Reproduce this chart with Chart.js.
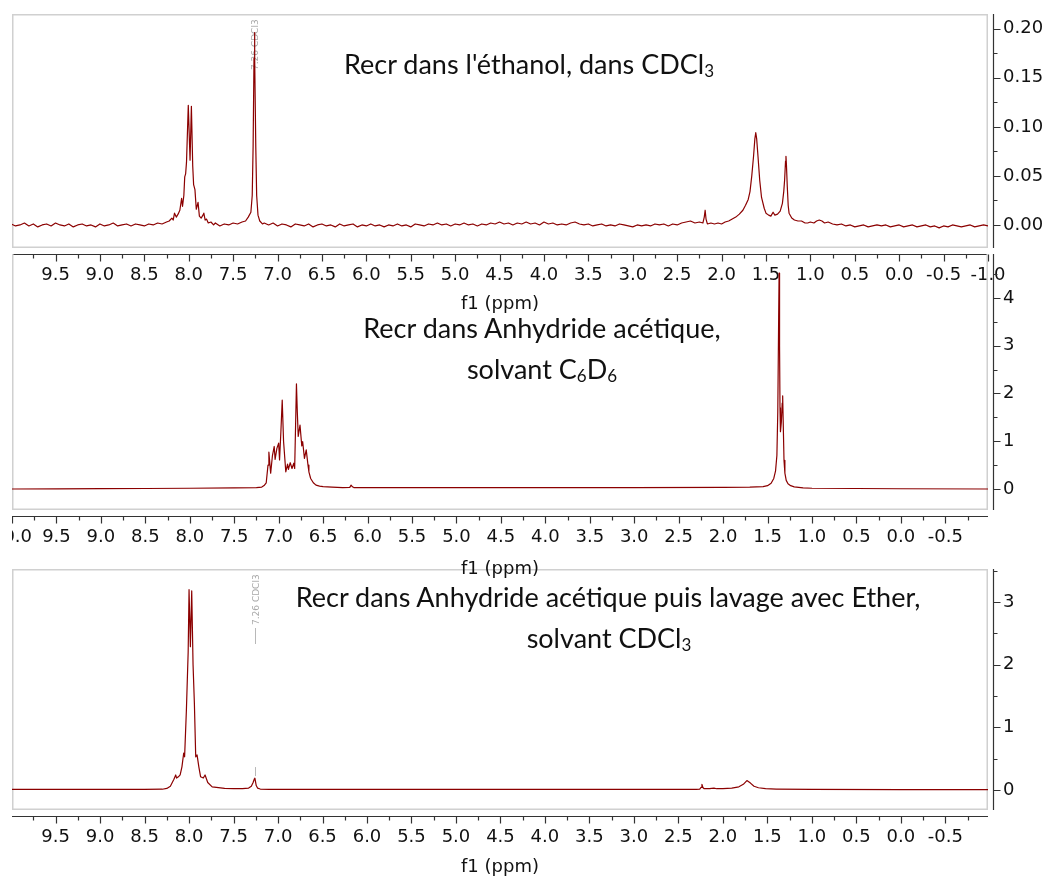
<!DOCTYPE html>
<html>
<head>
<meta charset="utf-8">
<script src="https://cdn.jsdelivr.net/npm/chart.js@4.4.0/dist/chart.umd.min.js"></script>
<style>
  body { margin: 0; background: #fff; width: 1044px; height: 878px; position: relative; overflow: hidden; }
  canvas { position: absolute; }
  .title { position: absolute; font-family: Lato, sans-serif; font-size: 27px; line-height: 30px; color: #111;
           white-space: nowrap; transform: translateX(-50%); }
  .title .sub { font-size: 17px; vertical-align: -3px; }
</style>
</head>
<body>
<canvas id="specEthanol" width="1044" height="316" style="left:0;top:0"></canvas>
<canvas id="specEther" width="1044" height="323" style="left:0;top:555px"></canvas>
<canvas id="specAnhydride" width="1032" height="340" style="left:12px;top:240px"></canvas>

<div class="title" style="left:529px;top:49px">Recr dans l'éthanol, dans CDCl<span class="sub">3</span></div>
<div class="title" style="left:542px;top:313px">Recr dans Anhydride acétique,</div>
<div class="title" style="left:542px;top:354px">solvant C<span class="sub">6</span>D<span class="sub">6</span></div>
<div class="title" style="left:608px;top:582px">Recr dans Anhydride acétique puis lavage avec Ether,</div>
<div class="title" style="left:609px;top:623px">solvant CDCl<span class="sub">3</span></div>

<script>
// [ppm, intensity] — recrystallised from ethanol, CDCl3
const spectrumEthanol = [
  [10.00, 0.001], [9.95, -0.001], [9.90, 0.000], [9.85, 0.002], [9.80, -0.001], [9.75, 0.001],
  [9.70, -0.002], [9.65, 0.000], [9.60, 0.001], [9.55, -0.001], [9.50, 0.002], [9.45, 0.000],
  [9.40, -0.001], [9.35, 0.001], [9.30, -0.002], [9.25, 0.000], [9.20, 0.001], [9.15, -0.001],
  [9.10, 0.000], [9.05, -0.002], [9.00, 0.001], [8.95, -0.001], [8.90, 0.000], [8.85, 0.002],
  [8.80, -0.001], [8.75, 0.000], [8.70, 0.001], [8.65, -0.001], [8.60, 0.001], [8.55, 0.000],
  [8.50, -0.001], [8.45, 0.001], [8.40, 0.000], [8.35, 0.002], [8.30, 0.001], [8.25, 0.003],
  [8.22, 0.004], [8.19, 0.007], [8.175, 0.005], [8.16, 0.012], [8.14, 0.008], [8.12, 0.011],
  [8.10, 0.015], [8.08, 0.027], [8.07, 0.019], [8.055, 0.030], [8.045, 0.049], [8.035, 0.052],
  [8.025, 0.064], [8.005, 0.122], [7.985, 0.066], [7.970, 0.121], [7.955, 0.060], [7.945, 0.041],
  [7.930, 0.036], [7.915, 0.016], [7.895, 0.023], [7.880, 0.009], [7.860, 0.007], [7.840, 0.010],
  [7.830, 0.012], [7.815, 0.005], [7.80, 0.006], [7.78, 0.002], [7.75, 0.003], [7.72, 0.000],
  [7.70, 0.002], [7.65, -0.001], [7.60, 0.001], [7.55, 0.000], [7.50, 0.002], [7.45, 0.001],
  [7.40, 0.003], [7.36, 0.004], [7.33, 0.008], [7.30, 0.013], [7.285, 0.030], [7.275, 0.080],
  [7.265, 0.170], [7.260, 0.196], [7.255, 0.170], [7.245, 0.080], [7.235, 0.030], [7.22, 0.010],
  [7.20, 0.004], [7.17, 0.001], [7.15, 0.002], [7.10, 0.000], [7.05, 0.002], [7.00, -0.001],
  [6.95, 0.001], [6.90, 0.000], [6.85, -0.002], [6.80, 0.001], [6.75, 0.000], [6.70, -0.001],
  [6.65, 0.001], [6.60, -0.002], [6.55, 0.000], [6.50, 0.001], [6.45, -0.001], [6.40, 0.000],
  [6.35, -0.002], [6.30, 0.001], [6.25, -0.001], [6.20, 0.000], [6.15, 0.001], [6.10, -0.002],
  [6.05, 0.000], [6.00, -0.001], [5.95, 0.001], [5.90, -0.001], [5.85, 0.000], [5.80, -0.002],
  [5.75, 0.000], [5.70, -0.001], [5.65, 0.001], [5.60, -0.001], [5.55, 0.000], [5.50, -0.002],
  [5.45, 0.001], [5.40, 0.000], [5.35, -0.001], [5.30, 0.001], [5.25, 0.000], [5.20, 0.002],
  [5.15, 0.000], [5.10, 0.001], [5.05, -0.001], [5.00, 0.001], [4.95, 0.000], [4.90, 0.002],
  [4.85, 0.000], [4.80, 0.001], [4.75, -0.001], [4.70, 0.001], [4.65, 0.000], [4.60, 0.002],
  [4.55, 0.001], [4.50, 0.003], [4.45, 0.001], [4.40, 0.002], [4.35, 0.000], [4.30, 0.002],
  [4.25, 0.001], [4.20, 0.003], [4.15, 0.001], [4.10, 0.002], [4.05, 0.000], [4.00, 0.003],
  [3.95, 0.001], [3.90, 0.002], [3.85, 0.000], [3.80, 0.001], [3.75, 0.000], [3.70, 0.002],
  [3.65, 0.003], [3.60, 0.001], [3.55, 0.000], [3.50, 0.001], [3.45, -0.001], [3.40, 0.000],
  [3.35, 0.001], [3.30, -0.001], [3.25, 0.000], [3.20, -0.001], [3.15, 0.001], [3.10, 0.000],
  [3.05, -0.001], [3.00, -0.002], [2.95, 0.000], [2.90, -0.001], [2.85, 0.000], [2.80, -0.001],
  [2.75, 0.001], [2.70, 0.000], [2.65, 0.001], [2.60, -0.001], [2.55, 0.001], [2.50, 0.000],
  [2.45, 0.002], [2.40, 0.003], [2.35, 0.004], [2.30, 0.002], [2.25, 0.003], [2.21, 0.002],
  [2.195, 0.008], [2.185, 0.015], [2.175, 0.006], [2.16, 0.001], [2.12, 0.002], [2.08, 0.001],
  [2.04, 0.002], [2.00, 0.001], [1.96, 0.003], [1.92, 0.004], [1.88, 0.006], [1.84, 0.008],
  [1.80, 0.011], [1.76, 0.015], [1.73, 0.020], [1.70, 0.026], [1.68, 0.034], [1.66, 0.050],
  [1.64, 0.070], [1.625, 0.088], [1.615, 0.094], [1.605, 0.088], [1.59, 0.070], [1.57, 0.045],
  [1.55, 0.028], [1.52, 0.017], [1.50, 0.012], [1.47, 0.010], [1.445, 0.009], [1.42, 0.013],
  [1.40, 0.010], [1.37, 0.011], [1.34, 0.014], [1.315, 0.022], [1.30, 0.034], [1.29, 0.046],
  [1.28, 0.065], [1.275, 0.070], [1.27, 0.062], [1.26, 0.039], [1.25, 0.020], [1.24, 0.012],
  [1.21, 0.007], [1.18, 0.005], [1.14, 0.004], [1.10, 0.004], [1.06, 0.002], [1.03, 0.002],
  [1.00, 0.003], [0.96, 0.002], [0.93, 0.004], [0.90, 0.005], [0.87, 0.004], [0.84, 0.002],
  [0.80, 0.003], [0.75, 0.001], [0.70, 0.000], [0.65, 0.001], [0.60, -0.001], [0.55, 0.000],
  [0.50, -0.002], [0.45, -0.001], [0.40, 0.000], [0.35, -0.002], [0.30, -0.001], [0.25, 0.000],
  [0.20, -0.001], [0.15, 0.000], [0.10, -0.002], [0.05, -0.001], [0.00, 0.000], [-0.05, -0.002],
  [-0.10, -0.001], [-0.15, 0.000], [-0.20, -0.002], [-0.25, -0.001], [-0.30, 0.000], [-0.35, -0.002],
  [-0.40, -0.001], [-0.45, -0.003], [-0.50, -0.001], [-0.55, -0.002], [-0.60, 0.000], [-0.65, -0.001],
  [-0.70, -0.002], [-0.75, -0.001], [-0.80, 0.000], [-0.85, -0.002], [-0.90, -0.001], [-0.95, 0.000],
  [-1.00, -0.001]
];

// recrystallised from acetic anhydride, C6D6
const spectrumAnhydride = [
  [10.00, 0.000], [9.50, 0.003], [9.00, 0.006], [8.50, 0.010], [8.00, 0.015], [7.50, 0.022],
  [7.25, 0.028], [7.19, 0.040], [7.16, 0.080], [7.14, 0.130], [7.12, 0.500], [7.11, 0.770],
  [7.10, 0.550], [7.09, 0.330], [7.07, 0.700], [7.05, 0.890], [7.04, 0.620], [7.02, 0.850],
  [7.00, 0.960], [6.99, 0.610], [6.975, 1.200], [6.96, 1.860], [6.945, 1.000], [6.92, 0.360],
  [6.90, 0.520], [6.89, 0.410], [6.87, 0.550], [6.85, 0.430], [6.83, 0.540], [6.82, 0.430],
  [6.81, 1.300], [6.80, 2.200], [6.79, 1.600], [6.78, 1.100], [6.76, 1.340], [6.74, 0.900],
  [6.73, 0.990], [6.71, 0.640], [6.69, 0.820], [6.67, 0.500], [6.66, 0.360], [6.64, 0.220],
  [6.61, 0.130], [6.58, 0.080], [6.54, 0.060], [6.50, 0.050], [6.40, 0.040], [6.28, 0.030],
  [6.20, 0.035], [6.185, 0.080], [6.17, 0.045], [6.155, 0.030], [6.00, 0.030], [5.00, 0.030],
  [4.00, 0.030], [3.00, 0.030], [2.00, 0.035], [1.70, 0.040], [1.55, 0.050], [1.50, 0.070],
  [1.46, 0.120], [1.43, 0.220], [1.41, 0.380], [1.395, 0.700], [1.385, 1.600], [1.375, 3.600],
  [1.370, 4.520], [1.365, 3.000], [1.360, 1.700], [1.355, 1.200], [1.345, 1.400], [1.335, 1.800],
  [1.330, 1.950], [1.325, 1.500], [1.315, 0.600], [1.305, 0.330], [1.29, 0.180], [1.27, 0.110],
  [1.24, 0.070], [1.20, 0.045], [1.10, 0.025], [1.00, 0.015], [0.50, 0.010], [0.00, 0.005],
  [-0.98, 0.000]
];

// acetic anhydride then ether wash, CDCl3
const spectrumEther = [
  [10.00, 0.010], [9.00, 0.010], [8.50, 0.010], [8.30, 0.012], [8.25, 0.025], [8.21, 0.060],
  [8.17, 0.170], [8.15, 0.240], [8.14, 0.190], [8.12, 0.210], [8.10, 0.240], [8.08, 0.370],
  [8.06, 0.590], [8.05, 0.530], [8.04, 0.900], [8.03, 1.270], [8.01, 2.200], [8.00, 3.200],
  [7.985, 2.290], [7.97, 3.180], [7.955, 2.000], [7.94, 1.380], [7.925, 0.530], [7.91, 0.560],
  [7.89, 0.370], [7.87, 0.210], [7.84, 0.190], [7.82, 0.240], [7.79, 0.120], [7.74, 0.050],
  [7.60, 0.025], [7.50, 0.020], [7.40, 0.022], [7.33, 0.030], [7.30, 0.060], [7.28, 0.120],
  [7.265, 0.180], [7.26, 0.190], [7.255, 0.150], [7.245, 0.070], [7.23, 0.030], [7.20, 0.015],
  [7.10, 0.010], [5.00, 0.010], [3.00, 0.010], [2.30, 0.010], [2.26, 0.015], [2.245, 0.040],
  [2.235, 0.090], [2.225, 0.040], [2.21, 0.020], [2.15, 0.020], [2.10, 0.030], [2.07, 0.020],
  [2.00, 0.020], [1.90, 0.030], [1.82, 0.050], [1.77, 0.090], [1.73, 0.150], [1.69, 0.110],
  [1.65, 0.060], [1.60, 0.035], [1.52, 0.020], [1.40, 0.015], [1.00, 0.010], [0.00, 0.005],
  [-0.98, 0.005]
];

const ppmTicksTop = [9.5, 9.0, 8.5, 8.0, 7.5, 7.0, 6.5, 6.0, 5.5, 5.0, 4.5, 4.0, 3.5, 3.0, 2.5, 2.0, 1.5, 1.0, 0.5, 0.0, -0.5, -1.0];
const ppmTicksMid = [10.0, 9.5, 9.0, 8.5, 8.0, 7.5, 7.0, 6.5, 6.0, 5.5, 5.0, 4.5, 4.0, 3.5, 3.0, 2.5, 2.0, 1.5, 1.0, 0.5, 0.0, -0.5];
const ppmTicksBottom = [9.5, 9.0, 8.5, 8.0, 7.5, 7.0, 6.5, 6.0, 5.5, 5.0, 4.5, 4.0, 3.5, 3.0, 2.5, 2.0, 1.5, 1.0, 0.5, 0.0, -0.5];
const ppmMinorTicks = [9.75, 9.25, 8.75, 8.25, 7.75, 7.25, 6.75, 6.25, 5.75, 5.25, 4.75, 4.25, 3.75, 3.25, 2.75, 2.25, 1.75, 1.25, 0.75, 0.25, -0.25, -0.75];

const intTicksTop = [0, 0.05, 0.10, 0.15, 0.20];
const intMinorTop = [0.025, 0.075, 0.125, 0.175];
const intTicksMid = [0, 1, 2, 3, 4];
const intMinorMid = [0.5, 1.5, 2.5, 3.5, 4.5];
const intTicksBottom = [0, 1, 2, 3];
const intMinorBottom = [0.5, 1.5, 2.5, 3.5];

Chart.defaults.font.family = 'DejaVu Sans';
Chart.defaults.font.size = 18;
Chart.defaults.color = '#111';

// gray frame, offset axes with major/minor ticks, solvent marker
const nmrAxes = {
  id: 'nmrAxes',
  beforeDatasetsDraw(chart, args, o) {
    const { ctx, chartArea: a, scales: { x, y } } = chart;
    ctx.save();
    ctx.strokeStyle = '#d0d0d0';
    ctx.lineWidth = 1.5;
    ctx.beginPath();
    if (o.frameTop) {
      ctx.moveTo(a.left + 0.75, a.top + 0.75);
      ctx.lineTo(a.right - 0.75, a.top + 0.75);
    } else {
      ctx.moveTo(a.right - 0.75, a.top);
    }
    ctx.lineTo(a.right - 0.75, a.bottom - 0.75);
    ctx.lineTo(a.left + 0.75, a.bottom - 0.75);
    ctx.lineTo(a.left + 0.75, a.top);
    if (o.frameTop) ctx.lineTo(a.left + 0.75, a.top + 0.75);
    ctx.stroke();

    if (o.solvent) {
      const px = Math.round(x.getPixelForValue(o.solvent.ppm)) + 0.5;
      ctx.fillStyle = '#a8a8a8';
      ctx.strokeStyle = '#b8b8b8';
      ctx.lineWidth = 1;
      ctx.font = '9px "DejaVu Sans"';
      ctx.save();
      ctx.translate(px + 3, a.top + 56);
      ctx.rotate(-Math.PI / 2);
      ctx.textAlign = 'left';
      ctx.textBaseline = 'alphabetic';
      ctx.fillText(o.solvent.text, 0, 0);
      ctx.restore();
      if (o.solvent.marker) {
        ctx.beginPath();
        ctx.moveTo(px, a.top + 59);
        ctx.lineTo(px, a.top + 75);
        const peak = y.getPixelForValue(o.solvent.height);
        ctx.moveTo(px, peak - 11);
        ctx.lineTo(px, peak - 2);
        ctx.stroke();
      }
    }
    ctx.restore();
  },
  afterDraw(chart, args, o) {
    const { ctx, chartArea: a, scales: { x, y } } = chart;
    const axisY = a.bottom + 6.5;
    const axisX = a.right + 5.5;
    ctx.save();
    ctx.strokeStyle = '#333';
    ctx.lineWidth = 1.2;
    ctx.beginPath();
    ctx.moveTo(a.left, axisY);
    ctx.lineTo(a.right, axisY);
    ctx.moveTo(axisX, a.top);
    ctx.lineTo(axisX, a.bottom);
    const inX = v => v >= x.min && v <= x.max;
    const inY = v => v >= y.min && v <= y.max;
    o.xMajor.filter(inX).forEach(v => {
      const px = Math.round(x.getPixelForValue(v)) + 0.5;
      ctx.moveTo(px, axisY); ctx.lineTo(px, axisY + 7);
    });
    o.xMinor.filter(inX).forEach(v => {
      const px = Math.round(x.getPixelForValue(v)) + 0.5;
      ctx.moveTo(px, axisY); ctx.lineTo(px, axisY + 4);
    });
    o.yMajor.filter(inY).forEach(v => {
      const py = Math.round(y.getPixelForValue(v)) + 0.5;
      ctx.moveTo(axisX, py); ctx.lineTo(axisX + 7, py);
    });
    o.yMinor.filter(inY).forEach(v => {
      const py = Math.round(y.getPixelForValue(v)) + 0.5;
      ctx.moveTo(axisX, py); ctx.lineTo(axisX + 4, py);
    });
    ctx.stroke();
    ctx.restore();
  }
};

function drawSpectrum(canvasId, points, cfg) {
  return new Chart(document.getElementById(canvasId), {
    type: 'line',
    data: {
      datasets: [{
        data: points.map(p => ({ x: p[0], y: p[1] })),
        borderColor: '#8b0000',
        borderWidth: 1.2,
        borderJoinStyle: 'round',
        pointRadius: 0,
        tension: 0
      }]
    },
    options: {
      responsive: false,
      animation: false,
      events: [],
      layout: { padding: { top: 14, left: cfg.left, right: 0, bottom: 0 } },
      plugins: {
        legend: { display: false },
        tooltip: { enabled: false },
        nmrAxes: {
          frameTop: cfg.frameTop,
          xMajor: cfg.xTicks, xMinor: ppmMinorTicks,
          yMajor: cfg.yTicks, yMinor: cfg.yMinor,
          solvent: cfg.solvent
        }
      },
      scales: {
        x: {
          type: 'linear',
          reverse: true,
          min: cfg.xMin,
          max: cfg.xMax,
          grid: { display: false, drawTicks: false },
          border: { display: false },
          afterBuildTicks: s => { s.ticks = cfg.xTicks.map(v => ({ value: v })); },
          afterFit: s => { s.height = cfg.xHeight; s.paddingLeft = 0; s.paddingRight = 0; },
          ticks: { autoSkip: false, maxRotation: 0, minRotation: 0, padding: 17, callback: v => v.toFixed(1) },
          title: { display: true, text: 'f1 (ppm)', padding: { top: 0, bottom: cfg.titlePad } }
        },
        y: {
          position: 'right',
          min: cfg.yMin,
          max: cfg.yMax,
          grid: { display: false, drawTicks: false },
          border: { display: false },
          afterBuildTicks: s => { s.ticks = cfg.yTicks.map(v => ({ value: v })); },
          afterFit: s => { s.width = 56; s.paddingTop = 0; s.paddingBottom = 0; },
          ticks: { autoSkip: false, padding: 15, callback: cfg.yLabel }
        }
      }
    },
    plugins: [nmrAxes]
  });
}

drawSpectrum('specEthanol', spectrumEthanol, {
  left: 12, frameTop: true, xHeight: 68, titlePad: 1,
  xMin: -1.0, xMax: 9.99, xTicks: ppmTicksTop,
  yMin: -0.0235, yMax: 0.215, yTicks: intTicksTop, yMinor: intMinorTop,
  yLabel: v => v.toFixed(2),
  solvent: { ppm: 7.26, text: '7.26 CDCl3', marker: false }
});

drawSpectrum('specAnhydride', spectrumAnhydride, {
  left: 0, frameTop: false, xHeight: 70, titlePad: 0,
  xMin: -0.98, xMax: 10.0, xTicks: ppmTicksMid,
  yMin: -0.44, yMax: 4.92, yTicks: intTicksMid, yMinor: intMinorMid,
  yLabel: v => v.toFixed(0)
});

drawSpectrum('specEther', spectrumEther, {
  left: 12, frameTop: true, xHeight: 68, titlePad: 0,
  xMin: -0.98, xMax: 9.99, xTicks: ppmTicksBottom,
  yMin: -0.32, yMax: 3.53, yTicks: intTicksBottom, yMinor: intMinorBottom,
  yLabel: v => v.toFixed(0),
  solvent: { ppm: 7.26, text: '7.26 CDCl3', marker: true, height: 0.19 }
});
</script>
</body>
</html>
